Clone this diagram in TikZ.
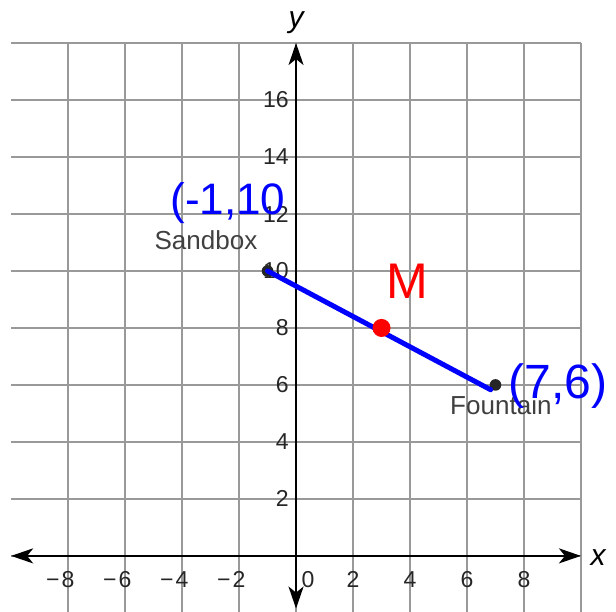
\documentclass[tikz,border=0pt]{standalone}
\usepackage{fontspec}
\setmainfont{Liberation Sans}
\usetikzlibrary{arrows.meta}

\begin{document}
\begin{tikzpicture}[x=0.5cm,y=0.5cm,line width=1pt,>={Stealth[length=11pt,width=7.5pt,inset=3pt]},
  tick/.style={inner sep=0pt,text=black!85,font=\fontsize{11.5}{12}\selectfont},
  dot/.style={circle,fill=black!85,inner sep=0pt,minimum size=5.8pt},
  place/.style={inner sep=0pt,text=black!75,font=\fontsize{13}{14}\selectfont},
  hand/.style={inner sep=0pt,font=\fontsize{#1}{#1}\selectfont}]
  \useasboundingbox (-10.39,-1.96) rectangle (11.23,19.51);
  % cuadricula
  \draw[black!40,line width=0.9pt] (-10,-3) grid (10,18);
  % ejes
  \draw[<->] (-10,0)--(10,0);
  \draw[<->] (0,-1.85)--(0,18);
  \node[inner sep=0pt,font=\fontsize{15}{15}\selectfont\itshape] (xlab) at (10.6,-0.05) {x};
  \node[inner sep=0pt,font=\fontsize{15}{15}\selectfont\itshape] (ylab) at (0,18.7) {y};
  % marcas
  \foreach \y in {2,4,...,16} \node[tick,anchor=east] (ty\y) at (-0.22,\y) {\y};
  \foreach \x in {2,4,6,8} \node[tick] (txm\x) at (-\x,-0.83) {\llap{−\kern1pt}\x};
  \foreach \x in {2,4,6,8} \node[tick] (tx\x) at (\x,-0.83) {\x};
  \node[tick] (tx0) at (0.42,-0.84) {0};
  % puntos
  \node[dot] (sandbox) at (-1,10) {};
  \node[dot] (fountain) at (7,6) {};
  \node[place] (sandboxlab) at (-3.16,11.09) {Sandbox};
  \node[place] (fountainlab) at (7.19,5.30) {Fountain};
  % segmento y punto medio
  \draw[blue,line width=2.5pt,line cap=round] (sandbox.center)--(fountain.south west);
  \node[circle,fill=red,inner sep=0pt,minimum size=9pt] (m) at (3,8) {};
  % anotaciones a mano
  \node[hand=22,blue] (sandboxxy) at (-2.39,12.39) {(-1,10};
  \node[hand=25,red] (mlab) at (3.89,9.65) {M};
  \node[hand=24,blue] (fountainxy) at (9.2,5.95) {(7,6)};
\end{tikzpicture}
\end{document}
